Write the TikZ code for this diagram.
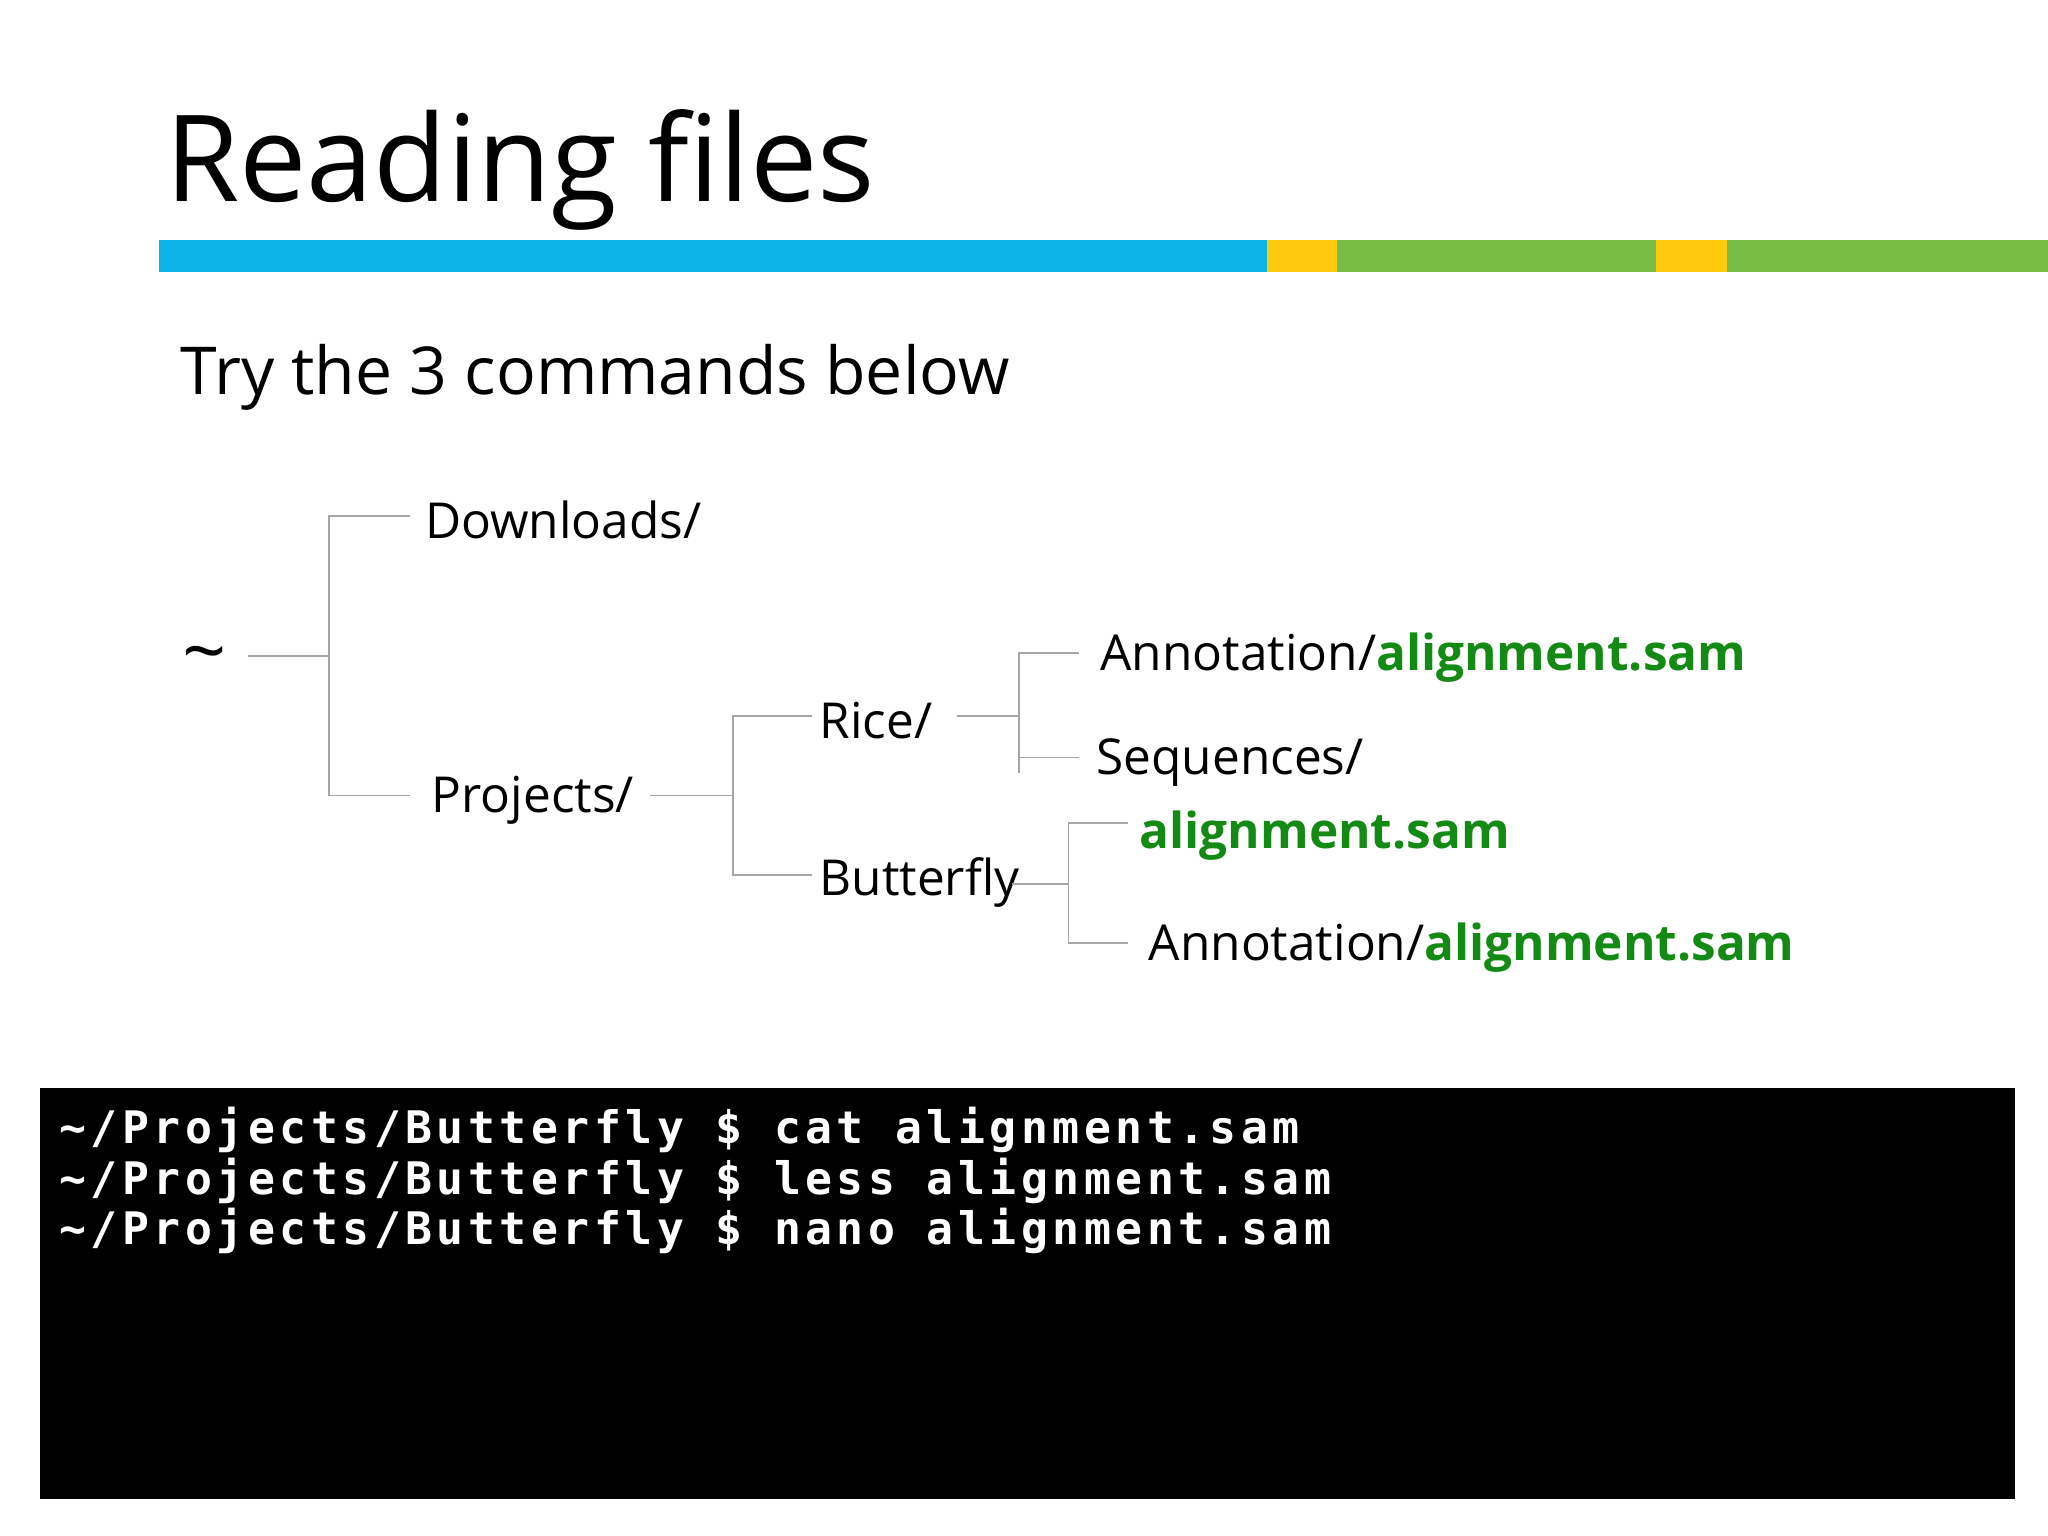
\documentclass[tikz,border=0pt]{standalone}
\usepackage{fontspec}
\setmainfont{Open Sans}
\newfontfamily\termfont[LetterSpace=10]{DejaVu Sans Mono}
\definecolor{barblue}{HTML}{0BB5E8}
\definecolor{baryellow}{HTML}{FFC90E}
\definecolor{bargreen}{HTML}{77BE47}
\definecolor{filegreen}{HTML}{138A13}
\begin{document}
\begin{tikzpicture}[x=0.013061cm,y=-0.013061cm,
  tl/.style={anchor=west,inner sep=0pt,font=\fontsize{14.1}{16}\selectfont,yshift=-0.045cm},
  br/.style={draw=gray!70,line width=0.5pt}]
\useasboundingbox (0,0) rectangle (1568,1176);
\fill[white] (0,0) rectangle (1568,1176);
\node[anchor=base west,inner sep=0pt,font=\fontsize{34.2}{38}\selectfont] (title) at (126,154) {Reading files};
\fill[barblue] (122,184) rectangle (970,208);
\fill[baryellow] (970,184) rectangle (1024,208);
\fill[bargreen] (1024,184) rectangle (1268,208);
\fill[baryellow] (1268,184) rectangle (1322,208);
\fill[bargreen] (1322,184) rectangle (1568,208);
\node[anchor=base west,inner sep=0pt,font=\fontsize{18.8}{22}\selectfont] (sub) at (138,302) {Try the 3 commands below};
% tree
\node[tl,font=\fontsize{22}{24}\selectfont] (home) at (139,504) {\char"007E};
\node[tl] (dl) at (325,395) {Downloads/};
\node[tl] (pr) at (330,609) {Projects/};
\node[tl] (rice) at (627,548) {Rice/};
\node[tl] (bf) at (627,672) {Butterfly};
\node[tl] (ann1) at (842,500) {Annotation/{\color{filegreen}\bfseries alignment.sam}};
\node[tl] (seq) at (839,580) {Sequences/};
\node[tl,text=filegreen,font=\fontsize{14.1}{16}\selectfont\bfseries] (al) at (872,636) {alignment.sam};
\node[tl] (ann2) at (879,722) {Annotation/{\color{filegreen}\bfseries alignment.sam}};
\coordinate (a0) at (190,502); \coordinate (a1) at (252,502);
\coordinate (a2) at (252,395); \coordinate (a3) at (314,395);
\coordinate (a4) at (252,609); \coordinate (a5) at (314,609);
\coordinate (b0) at (498,609); \coordinate (b1) at (561,609);
\coordinate (b2) at (561,548); \coordinate (b3) at (622,548);
\coordinate (b4) at (561,670); \coordinate (b5) at (622,670);
\coordinate (c0) at (733,548); \coordinate (c1) at (780,548);
\coordinate (c2) at (780,500); \coordinate (c3) at (826,500);
\coordinate (c4) at (780,592); \coordinate (c5) at (780,580); \coordinate (c6) at (826,580);
\coordinate (d0) at (775,677); \coordinate (d1) at (818,677);
\coordinate (d2) at (818,630); \coordinate (d3) at (864,630);
\coordinate (d4) at (818,722); \coordinate (d5) at (864,722);
\draw[br] (a0) -- (a1) (a3) -- (a2) -- (a4) -- (a5);
\draw[br] (b0) -- (b1) (b3) -- (b2) -- (b4) -- (b5);
\draw[br] (c0) -- (c1) (c3) -- (c2) -- (c4) (c5) -- (c6);
\draw[br] (d0) -- (d1) (d3) -- (d2) -- (d4) -- (d5);
% terminal
\fill[black] (31,833) rectangle (1543,1148);
\node[anchor=north west,inner sep=0pt,align=left,text=white,font=\termfont\bfseries\fontsize{12.75}{14.4}\selectfont] (term) at (45,847)
{\char"007E/Projects/Butterfly \$ cat alignment.sam\\
\char"007E/Projects/Butterfly \$ less alignment.sam\\
\char"007E/Projects/Butterfly \$ nano alignment.sam};
\end{tikzpicture}
\end{document}
